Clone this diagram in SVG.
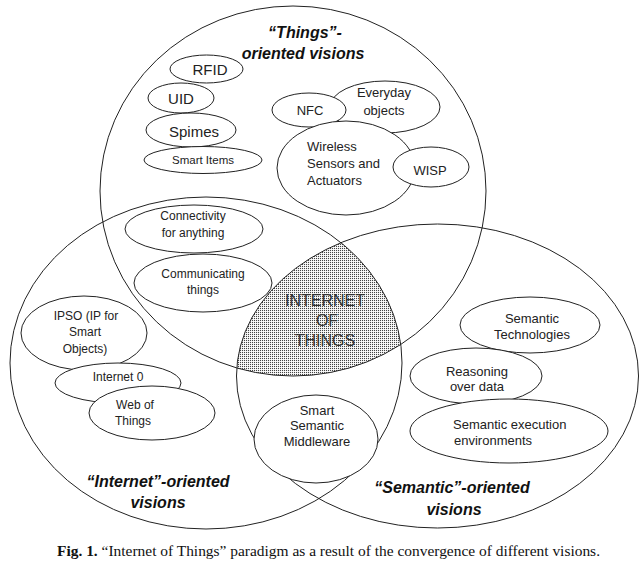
<svg xmlns="http://www.w3.org/2000/svg" width="643" height="574" viewBox="0 0 643 574">
<style>
.big{fill:none;stroke:#222;stroke-width:1}
.in{fill:#fff;stroke:#222;stroke-width:1}
.t{font-family:"Liberation Sans",Arial,sans-serif;fill:#222;text-anchor:middle}
.s12{font-size:12px}
.s13{font-size:13px}
.s15{font-size:15px}
.lbl{font-family:"Liberation Sans",Arial,sans-serif;font-size:16px;font-weight:bold;font-style:italic;fill:#111;text-anchor:middle}
.iot{font-family:"Liberation Sans",Arial,sans-serif;font-size:16px;fill:#333;text-anchor:middle}
.cap{font-family:"Liberation Serif","Times New Roman",serif;font-size:14.5px;fill:#111}
</style>
<defs>
<pattern id="dots" width="2" height="2" patternUnits="userSpaceOnUse">
<rect width="2" height="2" fill="#fff"/>
<rect width="1.1" height="1.1" fill="#444"/>
</pattern>
<clipPath id="clipL"><ellipse cx="206" cy="363" rx="196" ry="166"/></clipPath>
<clipPath id="clipR"><ellipse cx="437.5" cy="376" rx="201" ry="152"/></clipPath>
</defs>

<g id="iot-core">
<g clip-path="url(#clipL)">
<ellipse cx="293" cy="191" rx="193" ry="185" fill="url(#dots)" clip-path="url(#clipR)"/>
</g>
<text class="iot" x="325" y="306">INTERNET</text>
<text class="iot" x="327" y="326">OF</text>
<text class="iot" x="325" y="346">THINGS</text>
</g>

<g id="things-vision">
<ellipse class="big" cx="293" cy="191" rx="193" ry="185"/>
<text class="lbl" x="305" y="38">“Things”-</text>
<text class="lbl" x="303" y="59">oriented visions</text>
</g>
<g id="internet-vision">
<ellipse class="big" cx="206" cy="363" rx="196" ry="166"/>
<text class="lbl" x="158" y="487">“Internet”-oriented</text>
<text class="lbl" x="158" y="508">visions</text>
</g>
<g id="semantic-vision">
<ellipse class="big" cx="437.5" cy="376" rx="201" ry="152"/>
<text class="lbl" x="452" y="493">“Semantic”-oriented</text>
<text class="lbl" x="454" y="515">visions</text>
</g>

<g id="rfid"><ellipse class="in" cx="206.5" cy="69" rx="36.5" ry="14"/><text class="t s15" x="210" y="75">RFID</text></g>
<g id="uid"><ellipse class="in" cx="181" cy="98" rx="33" ry="15"/><text class="t s15" x="181" y="104">UID</text></g>
<g id="spimes"><ellipse class="in" cx="191" cy="130" rx="45" ry="17"/><text class="t s15" x="194" y="137">Spimes</text></g>
<g id="smart-items"><ellipse class="in" cx="203" cy="160" rx="59" ry="13.5"/><text class="t" style="font-size:11.5px" x="203" y="164">Smart Items</text></g>

<g id="everyday"><ellipse class="in" cx="385" cy="107" rx="55" ry="26"/><text class="t s13" x="384" y="96.5">Everyday</text><text class="t s13" x="384" y="114.5">objects</text></g>
<g id="nfc"><ellipse class="in" cx="309" cy="110" rx="37" ry="17"/><text class="t s13" x="310" y="115">NFC</text></g>
<g id="wsn"><ellipse class="in" cx="346" cy="168" rx="69" ry="47"/>
<text class="t s13" style="text-anchor:start" x="307" y="151">Wireless</text>
<text class="t s13" style="text-anchor:start" x="307" y="168">Sensors and</text>
<text class="t s13" style="text-anchor:start" x="307" y="185">Actuators</text></g>
<g id="wisp"><ellipse class="in" cx="431" cy="167" rx="38" ry="20"/><text class="t s13" x="430" y="174.5">WISP</text></g>

<g id="connectivity"><ellipse class="in" cx="194" cy="229" rx="69" ry="24"/><text class="t s12" x="193" y="220">Connectivity</text><text class="t s12" x="193" y="237">for anything</text></g>
<g id="communicating"><ellipse class="in" cx="203" cy="283" rx="69" ry="29"/><text class="t s12" x="203" y="278">Communicating</text><text class="t s12" x="203" y="294">things</text></g>

<g id="ipso"><ellipse class="in" cx="84" cy="333" rx="63" ry="37"/><text class="t s12" x="86" y="320">IPSO (IP for</text><text class="t s12" x="85" y="336">Smart</text><text class="t s12" x="85" y="353">Objects)</text></g>
<g id="internet0"><ellipse class="in" cx="118" cy="383" rx="63" ry="20"/><text class="t s12" x="118" y="381">Internet 0</text></g>
<g id="wot"><ellipse class="in" cx="152" cy="413" rx="63" ry="27"/><text class="t s12" x="135" y="409">Web of</text><text class="t s12" x="133" y="425">Things</text></g>

<g id="middleware"><ellipse class="in" cx="316" cy="439" rx="62" ry="44"/><text class="t s13" x="317" y="414.5">Smart</text><text class="t s13" x="317" y="429.5">Semantic</text><text class="t s13" x="317" y="445.5">Middleware</text></g>
<g id="sem-tech"><ellipse class="in" cx="530" cy="325" rx="70" ry="28"/><text class="t s13" x="532" y="322.5">Semantic</text><text class="t s13" x="532" y="338.5">Technologies</text></g>
<g id="reasoning"><ellipse class="in" cx="476" cy="376" rx="66" ry="28"/><text class="t s13" x="477" y="375.5">Reasoning</text><text class="t s13" x="477" y="390.5">over data</text></g>
<g id="sem-exec"><ellipse class="in" cx="509" cy="431" rx="99" ry="32"/><text class="t s13" style="text-anchor:start" x="453" y="428.5">Semantic execution</text><text class="t s13" style="text-anchor:start" x="454" y="444.5">environments</text></g>

<g id="connectors"></g>

<text class="cap" x="57" y="556" textLength="543" lengthAdjust="spacingAndGlyphs"><tspan font-weight="bold">Fig. 1.</tspan>  “Internet of Things” paradigm as a result of the convergence of different visions.</text>
</svg>
